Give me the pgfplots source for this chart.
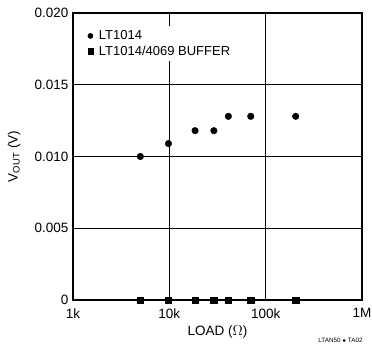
\documentclass[border=0pt]{standalone}
\usepackage{pgfplots}
\pgfplotsset{compat=1.18}
\usepackage{fontspec}
\setmainfont{Liberation Sans}
\begin{document}
\begin{tikzpicture}
\useasboundingbox (-73pt,-56pt) rectangle (299pt,300pt);
\begin{axis}[
  at={(0,0)}, anchor=south west,
  scale only axis,
  width=289pt, height=287pt,
  xmode=log,
  xmin=1000, xmax=1000000,
  ymin=0, ymax=0.020,
  xtick={1000,10000,100000,1000000},
  xticklabels={1k,10k,100k,1M},
  ytick={0,0.005,0.010,0.015,0.020},
  yticklabels={0,0.005,0.010,0.015,0.020},
  scaled y ticks=false,
  minor xtick={},
  grid=major,
  major grid style={black, line width=0.7pt},
  axis line style={line width=1.2pt},
  tick style={draw=none},
  tick label style={font=\fontsize{13.5}{15}\selectfont},
  xticklabel style={yshift=-5pt},
  yticklabel style={xshift=-1pt},
  xlabel={LOAD ($\Omega$)},
  ylabel={V\textsubscript{OUT} (V)},
  xlabel style={at={(axis description cs:0.5,-0.11)}, anchor=center, font=\fontsize{13.5}{15}\selectfont},
  ylabel style={at={(axis description cs:-0.204,0.5)}, anchor=center, font=\fontsize{13.5}{15}\selectfont},
  legend style={draw=none, fill=white, at={(axis description cs:0.025,0.955)}, anchor=north west,
    font=\fontsize{13}{15}\selectfont, row sep=1.5pt, inner sep=3pt,
    nodes={inner sep=1.5pt}},
  legend image code/.code={\path[draw=none,fill=none] (0pt,0pt) -- (14pt,0pt); \draw[#1, mark size=2.6pt] plot coordinates {(7pt,0pt)};},
  legend cell align=left,
  clip=false,
]
\addplot[only marks, mark=*, mark size=3.3pt, black] coordinates {
 (5000,0.0100) (9800,0.0109) (18500,0.0118) (29000,0.0118) (41000,0.0128) (70000,0.0128) (205000,0.0128)};
\addlegendentry{LT1014}
\addplot[only marks, mark=square*, mark size=3.2pt, black] coordinates {
 (5000,0) (9800,0) (18500,0) (29000,0) (41000,0) (70000,0) (205000,0)};
\addlegendentry{LT1014/4069 BUFFER}
\node[anchor=center, font=\fontsize{6.3}{7}\selectfont] at (axis description cs:0.9256,-0.139) {LTAN50 $\bullet$ TA02};
\end{axis}
\end{tikzpicture}
\end{document}
